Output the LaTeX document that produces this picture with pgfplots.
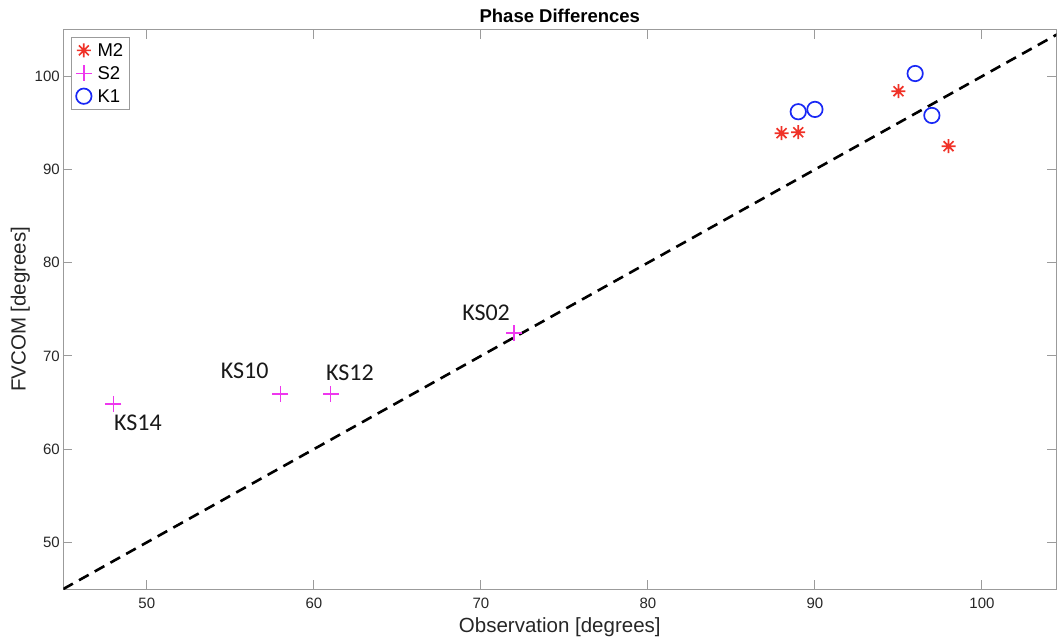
\documentclass[border=0pt]{standalone}
\usepackage{fontspec}
\setmainfont{Liberation Sans}
\newfontfamily\calib{Carlito}
\usepackage{pgfplots}
\pgfplotsset{compat=1.18}
\definecolor{mred}{RGB}{240,50,40}
\definecolor{mmag}{RGB}{238,55,238}
\definecolor{mblue}{RGB}{25,40,245}
\definecolor{axgray}{RGB}{155,155,155}
\definecolor{txt}{RGB}{38,38,38}
\pgfdeclareplotmark{ast8}{%
 \pgfpathmoveto{\pgfqpoint{0pt}{\pgfplotmarksize}}\pgfpathlineto{\pgfqpoint{0pt}{-\pgfplotmarksize}}%
 \pgfpathmoveto{\pgfqpoint{\pgfplotmarksize}{0pt}}\pgfpathlineto{\pgfqpoint{-\pgfplotmarksize}{0pt}}%
 \pgfpathmoveto{\pgfqpoint{0.7071\pgfplotmarksize}{0.7071\pgfplotmarksize}}\pgfpathlineto{\pgfqpoint{-0.7071\pgfplotmarksize}{-0.7071\pgfplotmarksize}}%
 \pgfpathmoveto{\pgfqpoint{-0.7071\pgfplotmarksize}{0.7071\pgfplotmarksize}}\pgfpathlineto{\pgfqpoint{0.7071\pgfplotmarksize}{-0.7071\pgfplotmarksize}}%
 \pgfusepathqstroke}
\pgfdeclareplotmark{plusm}{%
 \pgfpathmoveto{\pgfqpoint{0pt}{\pgfplotmarksize}}\pgfpathlineto{\pgfqpoint{0pt}{-\pgfplotmarksize}}%
 \pgfpathmoveto{\pgfqpoint{\pgfplotmarksize}{0pt}}\pgfpathlineto{\pgfqpoint{-\pgfplotmarksize}{0pt}}%
 \pgfusepathqstroke}
\begin{document}
\begin{tikzpicture}
\begin{axis}[name=ax, scale only axis, width=993pt, height=559.3pt,
  xmin=45, xmax=104.45, ymin=45, ymax=105,
  xtick={50,60,...,100}, ytick={50,60,...,100},
  tick align=inside, major tick length=9pt,
  axis line style={axgray, line width=1pt}, tick style={axgray, line width=1pt},
  ticklabel style={font=\fontsize{15}{17}\selectfont, text=txt},
  xticklabel style={yshift=-5pt},
  /pgf/number format/assume math mode=true,
  xlabel={Observation [degrees]}, ylabel={FVCOM [degrees]},
  label style={font=\fontsize{20.5}{24}\selectfont, text=txt},
  xlabel style={yshift=-3pt},
  ylabel shift=-2pt,
  title={Phase Differences},
  title style={font=\fontsize{18.5}{22}\selectfont\bfseries, yshift=-3pt},
  legend style={at={(0.0078,0.987)}, anchor=north west, draw=axgray, line width=1pt,
    font=\fontsize{18.5}{21}\selectfont, inner xsep=4pt, inner ysep=5pt, row sep=6.5pt,
    nodes={inner xsep=2pt, inner ysep=1pt}},
  legend image code/.code={\path[draw=none,fill=none] (-8pt,-8pt) rectangle (12pt,8pt); \draw[only marks, line width=1.7pt] plot coordinates {(0.3pt,0.3pt)};},
  legend cell align=left,
  clip=true]
\addplot[black, line width=2.6pt, dash pattern=on 11pt off 7pt, forget plot] coordinates {(45,45) (105,105)};
\addplot[only marks, mark=ast8, mark size=7pt, color=mred, line width=1.7pt] coordinates {
 (88,93.9) (89,94.0) (95,98.4) (98,92.5)};
\addlegendentry{M2}
\addplot[only marks, mark=plusm, mark size=8pt, color=mmag, line width=1.7pt] coordinates {
 (48,64.85) (58,65.92) (61,65.92) (72,72.45)};
\addlegendentry{S2}
\addplot[only marks, mark=o, mark size=7.7pt, color=mblue, line width=1.7pt] coordinates {
 (89,96.2) (90,96.45) (96,100.3) (97,95.8)};
\addlegendentry{K1}
\node[font=\calib\fontsize{24}{28}\selectfont, text=black!90] at (axis cs:49.47,62.84) {KS14};
\node[font=\calib\fontsize{24}{28}\selectfont, text=black!90] at (axis cs:55.86,68.42) {KS10};
\node[font=\calib\fontsize{24}{28}\selectfont, text=black!90] at (axis cs:62.16,68.15) {KS12};
\node[font=\calib\fontsize{24}{28}\selectfont, text=black!90] at (axis cs:70.31,74.65) {KS02};
\end{axis}
\pgfresetboundingbox
\path[use as bounding box] (ax.south west) ++(-63.3pt,-51pt) rectangle ++(1057pt,640pt);
\end{tikzpicture}
\end{document}
